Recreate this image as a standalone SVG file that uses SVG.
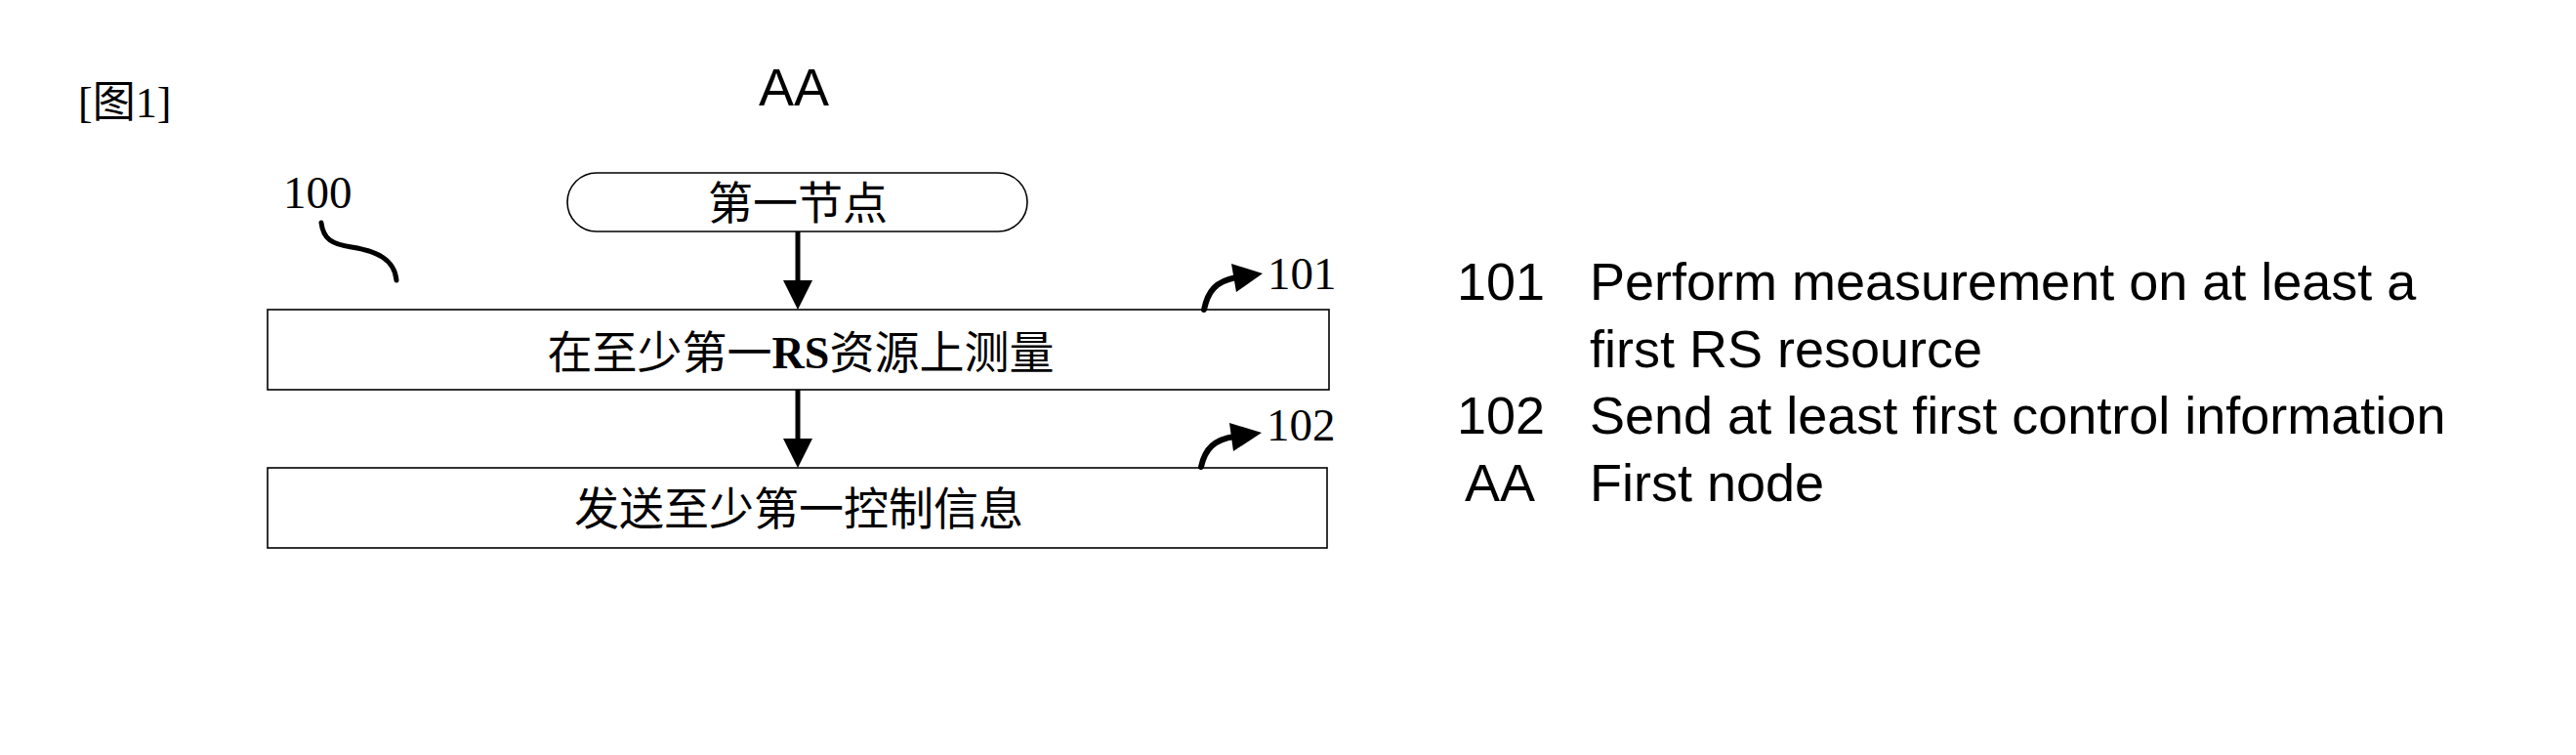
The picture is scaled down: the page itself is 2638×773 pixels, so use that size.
<svg xmlns="http://www.w3.org/2000/svg" width="2638" height="773" viewBox="0 0 2638 773">
<style>
.bg{fill:#fff}
.box{fill:#fff;stroke:#000;stroke-width:1.6}
.cjk{font-family:"Liberation Serif","Noto Sans CJK SC",serif;font-size:46px;fill:#000;text-anchor:middle}
.ref{font-family:"Liberation Serif","Noto Sans CJK SC",serif;font-size:47px;fill:#000}
.sans{font-family:"Liberation Sans",Arial,sans-serif;font-size:54px;fill:#000}
.thick{fill:none;stroke:#000;stroke-width:5}
.curl{fill:none;stroke:#000;stroke-width:6;stroke-linecap:round}
.head{fill:#000;stroke:none}
</style>
<rect class="bg" x="0" y="0" width="2638" height="773"/>
<g id="figure-label"><text class="ref" x="80" y="120" style="font-size:44px">[图1]</text></g>
<g id="title-AA"><text class="sans" x="777" y="108">AA</text></g>
<g id="ref-100">
<text class="ref" x="290" y="213">100</text>
<path class="curl" d="M329,228 C331,245 340,250 360,253 C385,257 404,265 406,287" style="stroke-width:5"/>
</g>
<g id="node-first">
<rect class="box" x="581" y="177" width="471" height="60" rx="30" ry="30"/>
<text class="cjk" x="817" y="224">第一节点</text>
</g>
<g id="node-101">
<rect class="box" x="274" y="317" width="1087" height="82"/>
<text class="cjk" x="820" y="377">在至少第一<tspan font-weight="bold" font-family="Liberation Serif,serif">RS</tspan>资源上测量</text>
</g>
<g id="node-102">
<rect class="box" x="274" y="479" width="1085" height="82"/>
<text class="cjk" x="818" y="537">发送至少第一控制信息</text>
</g>
<g id="connectors">
<line class="thick" x1="817" y1="237" x2="817" y2="290"/>
<polygon class="head" points="802,287 832,287 817,317"/>
<line class="thick" x1="817" y1="399" x2="817" y2="452"/>
<polygon class="head" points="802,449 832,449 817,479"/>
</g>
<g id="label-101">
<path class="curl" d="M1233,317 C1237,298 1245,288 1266,284"/>
<polygon class="head" points="1261,270 1266,299 1293,280"/>
<text class="ref" x="1298" y="296">101</text>
</g>
<g id="label-102">
<path class="curl" d="M1230,478 C1234,459 1244,450 1264,447"/>
<polygon class="head" points="1259,433 1263,462 1292,443"/>
<text class="ref" x="1297" y="451">102</text>
</g>
<g id="legend">
<text class="sans" x="1492" y="307">101</text>
<text class="sans" x="1628" y="307">Perform measurement on at least a</text>
<text class="sans" x="1628" y="376">first RS resource</text>
<text class="sans" x="1492" y="444">102</text>
<text class="sans" x="1628" y="444">Send at least first control information</text>
<text class="sans" x="1500" y="513">AA</text>
<text class="sans" x="1628" y="513">First node</text>
</g>
</svg>
